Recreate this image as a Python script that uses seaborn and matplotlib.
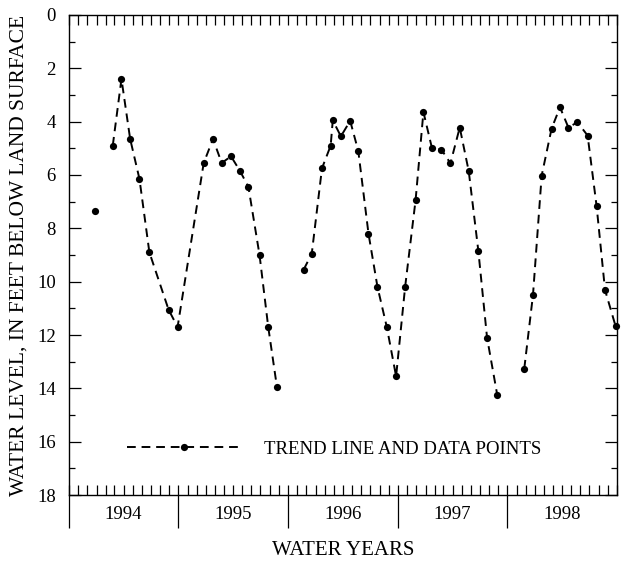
import matplotlib
matplotlib.use("Agg")
import matplotlib.pyplot as plt
import matplotlib.dates as mdates
import matplotlib.transforms as mtransforms
import pandas as pd
import seaborn as sns

# === Water-level record ===
sample_dates = [
    "1993-12-26",
    "1994-02-24", "1994-03-25", "1994-04-23", "1994-05-24", "1994-06-26",
    "1994-08-29", "1994-09-28", "1994-12-24", "1995-01-24", "1995-02-22",
    "1995-03-25", "1995-04-24", "1995-05-22", "1995-06-28", "1995-07-27",
    "1995-08-25",
    "1995-11-22", "1995-12-19", "1996-01-22", "1996-02-20", "1996-02-27",
    "1996-03-25", "1996-04-25", "1996-05-22", "1996-06-25", "1996-07-25",
    "1996-08-25", "1996-09-25", "1996-10-25", "1996-11-29", "1996-12-25",
    "1997-01-22", "1997-02-23", "1997-03-25", "1997-04-25", "1997-05-25",
    "1997-06-26", "1997-07-25", "1997-08-28",
    "1997-11-26", "1997-12-25", "1998-01-23", "1998-02-25", "1998-03-25",
    "1998-04-22", "1998-05-22", "1998-06-25", "1998-07-25", "1998-08-22",
    "1998-09-26",
]
water_level_ft = [
    7.35,
    4.90, 2.40, 4.65, 6.15, 8.90,
    11.05, 11.70, 5.55, 4.65, 5.55,
    5.30, 5.85, 6.45, 9.00, 11.70,
    13.95,
    9.55, 8.95, 5.75, 4.90, 3.95,
    4.55, 3.97, 5.10, 8.20, 10.20,
    11.70, 13.55, 10.20, 6.93, 3.64,
    4.97, 5.05, 5.56, 4.22, 5.86,
    8.85, 12.10, 14.25,
    13.26, 10.50, 6.02, 4.26, 3.46,
    4.22, 4.02, 4.52, 7.17, 10.31,
    11.66,
]
# breaks in the trend line (gaps in the record)
segment_id = [0] * 1 + [1] * 16 + [2] * 23 + [3] * 11

water_years = [1994, 1995, 1996, 1997, 1998]
depth_ticks = list(range(0, 19, 2))

df = pd.DataFrame({
    "date": pd.to_datetime(sample_dates),
    "level": water_level_ft,
    "segment": segment_id,
})

sns.set_style("white")
plt.rcParams["font.family"] = ["Liberation Serif", "DejaVu Serif"]
plt.rcParams["text.color"] = "black"
plt.rcParams["axes.labelcolor"] = "black"
plt.rcParams["xtick.color"] = "black"
plt.rcParams["ytick.color"] = "black"

fig, ax = plt.subplots(figsize=(6.21, 5.61), dpi=100)
fig.subplots_adjust(left=0.111, right=0.9936, top=0.9733, bottom=0.1176)

sns.lineplot(
    data=df, x="date", y="level", units="segment", estimator=None,
    color="black", lw=1.4, linestyle=(0, (4.5, 3.0)),
    marker="o", markersize=5.2, markeredgecolor="black", markeredgewidth=0,
    clip_on=False, ax=ax,
)

# --- y axis: depth below land surface, increasing downward ---
ax.set_ylim(18, 0)
ax.set_yticks(depth_ticks)
ax.set_yticks(range(1, 18, 2), minor=True)
ax.tick_params(axis="y", which="major", direction="in", length=8.6, width=0.9,
               left=True, right=True, labelsize=13.5, pad=9.5)
ax.tick_params(axis="y", which="minor", direction="in", length=4.3, width=0.9,
               left=True, right=True)

# --- x axis: water years (Oct-Sep) with monthly ticks ---
wy_start = [pd.Timestamp(f"{wy - 1}-10-01") for wy in water_years]
ax.set_xlim(wy_start[0], pd.Timestamp(f"{water_years[-1]}-10-01"))
ax.set_xticks(wy_start)
ax.set_xticklabels([])
ax.xaxis.set_minor_locator(mdates.MonthLocator())
ax.xaxis.remove_overlapping_locs = False
ax.tick_params(axis="x", which="major", direction="out", length=24, width=0.9,
               bottom=True, top=False, labelbottom=False)
ax.tick_params(axis="x", which="minor", direction="in", length=7, width=0.9,
               bottom=True, top=True)

trans = mtransforms.blended_transform_factory(ax.transData, ax.transAxes)
for wy in water_years:
    mid = mdates.date2num(pd.Timestamp(f"{wy}-04-01"))
    ax.text(mid, -0.0396, str(wy), transform=trans, ha="center", va="center",
            fontsize=13.5)

for side in ax.spines.values():
    side.set_linewidth(1.0)
    side.set_color("black")

ax.set_xlabel("WATER YEARS", fontsize=15, va="center")
ax.xaxis.set_label_coords(0.5, -0.1146)
ax.set_ylabel("WATER LEVEL, IN FEET BELOW LAND SURFACE", fontsize=15.5)
ax.yaxis.set_label_coords(-0.074, 0.5)

ax.legend(handles=[ax.lines[0]], labels=["TREND LINE AND DATA POINTS"],
          loc="center left", bbox_to_anchor=(0.106, 0.096), frameon=False,
          handlelength=6.1, handletextpad=1.2, borderpad=0, borderaxespad=0,
          fontsize=13.5, numpoints=1)

fig.savefig("out.png", dpi=100)
plt.close(fig)
